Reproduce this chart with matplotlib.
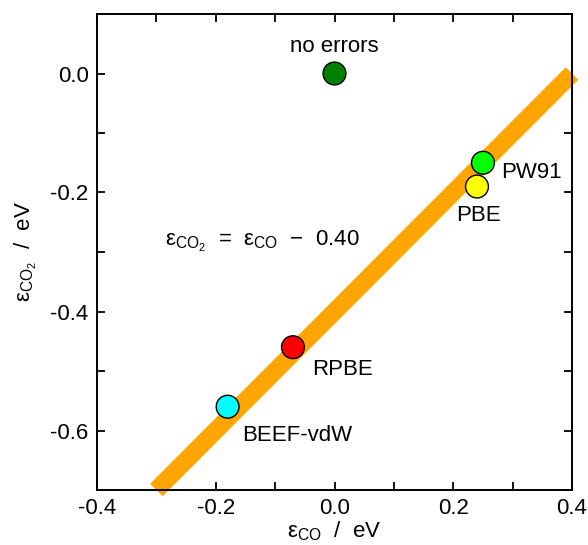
import matplotlib

matplotlib.use("Agg")
import matplotlib.pyplot as plt
from matplotlib.ticker import MultipleLocator

plt.rcParams["font.family"] = ["Liberation Sans", "DejaVu Sans"]
plt.rcParams["mathtext.fontset"] = "custom"
plt.rcParams["mathtext.rm"] = "Liberation Sans"
plt.rcParams["mathtext.it"] = "Liberation Sans"
plt.rcParams["mathtext.default"] = "rm"

# functionals: CO error vs CO2 error (eV)
names = ["no errors", "PW91", "PBE", "RPBE", "BEEF-vdW"]
eps_co = [0.0, 0.25, 0.24, -0.07, -0.18]
eps_co2 = [0.0, -0.15, -0.19, -0.46, -0.56]
colors = ["#008000", "#00FF00", "#FFFF00", "#FF0000", "#00FFFF"]

# fitted relation eps_CO2 = eps_CO - offset
offset = 0.40
line_x = [-0.3, 0.4]

fig = plt.figure(figsize=(5.88, 5.45), dpi=100)
ax = fig.add_axes([97 / 588, 1 - 490 / 545, 475 / 588, 476 / 545])

ax.plot(line_x, [x - offset for x in line_x], color="#FFA500", lw=12.7,
        solid_capstyle="butt", clip_on=False, zorder=2)
ax.scatter(eps_co, eps_co2, s=270, c=colors, edgecolors="black",
           linewidths=1.0, zorder=3, clip_on=False)

# labels next to points
label_pos = {
    "no errors": (0.0, 0.045, "center"),
    "PW91": (0.28, -0.167, "left"),
    "PBE": (0.205, -0.238, "left"),
    "RPBE": (-0.037, -0.497, "left"),
    "BEEF-vdW": (-0.155, -0.608, "left"),
}
for n in names:
    x, y, ha = label_pos[n]
    ax.text(x, y, n, fontsize=16, ha=ha, va="center")

ax.text(-0.285, -0.282,
        r"$\varepsilon_{CO_2}$  =  $\varepsilon_{CO}$  $-$  0.40",
        fontsize=16, ha="left", va="center")

ax.set_xlim(-0.4, 0.4)
ax.set_ylim(-0.7, 0.1)
ax.xaxis.set_major_locator(MultipleLocator(0.2))
ax.xaxis.set_minor_locator(MultipleLocator(0.1))
ax.yaxis.set_major_locator(MultipleLocator(0.2))
ax.yaxis.set_minor_locator(MultipleLocator(0.1))
ax.xaxis.set_major_formatter(lambda v, p: f"{v:.1f}".replace("-0.0", "0.0"))
ax.yaxis.set_major_formatter(lambda v, p: f"{v:.1f}".replace("-0.0", "0.0"))
ax.tick_params(which="both", direction="in", top=True, right=True,
               length=6, width=1.3, labelsize=16, pad=6)
for s in ax.spines.values():
    s.set_linewidth(1.4)

ax.set_xlabel(r"$\varepsilon_{CO}$  /  eV", fontsize=16, labelpad=0)
ax.set_ylabel(r"$\varepsilon_{CO_2}$  /  eV", fontsize=16, labelpad=8)

fig.savefig("out.png", dpi=100)
